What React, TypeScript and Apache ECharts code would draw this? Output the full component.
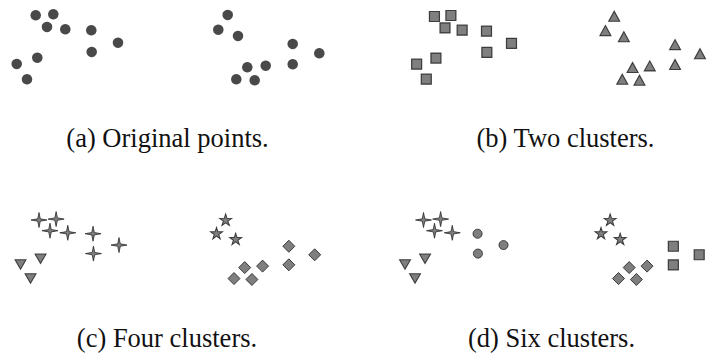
import React, { useEffect, useRef } from "react";
import * as echarts from "echarts";

// Shared point set (same 20 points in every panel), y measured downward
const pointsX = [35.7, 53.3, 47, 65.3, 91.3, 118, 91.7, 37.3, 16.7, 27, 227.7, 218.3, 238, 292.7, 319.3, 292.7, 247.3, 265.7, 236.3, 254.7];
const pointsY = [15.3, 14.3, 27, 29.3, 30.3, 42.7, 52, 57.7, 64, 79.3, 15, 29.7, 36, 44, 53.3, 64.3, 67.3, 65.7, 79.3, 80.3];

// Cluster (marker) assignment of each point per panel
const clustersA = ["dot", "dot", "dot", "dot", "dot", "dot", "dot", "dot", "dot", "dot", "dot", "dot", "dot", "dot", "dot", "dot", "dot", "dot", "dot", "dot"];
const clustersB = ["square", "square", "square", "square", "square", "square", "square", "square", "square", "square", "triangle", "triangle", "triangle", "triangle", "triangle", "triangle", "triangle", "triangle", "triangle", "triangle"];
const clustersC = ["sparkle", "sparkle", "sparkle", "sparkle", "sparkle", "sparkle", "sparkle", "downTriangle", "downTriangle", "downTriangle", "star", "star", "star", "diamond", "diamond", "diamond", "diamond", "diamond", "diamond", "diamond"];
const clustersD = ["sparkle", "sparkle", "sparkle", "sparkle", "circle", "circle", "circle", "downTriangle", "downTriangle", "downTriangle", "star", "star", "star", "square", "square", "square", "diamond", "diamond", "diamond", "diamond"];

const captions = ["(a) Original points.", "(b) Two clusters.", "(c) Four clusters.", "(d) Six clusters."];

const SPARKLE = "path://M0,-10 L1.6,-1.6 L10,0 L1.6,1.6 L0,10 L-1.6,1.6 L-10,0 L-1.6,-1.6 Z";
const STAR = "path://M0,-10 L2.245,-3.09 L9.51,-3.09 L3.63,1.18 L5.88,8.09 L0,3.82 L-5.88,8.09 L-3.63,1.18 L-9.51,-3.09 L-2.245,-3.09 Z";

const FILL = "#5f5f5f";
const EDGE = "#1c1c1c";

const markerStyles: Record<string, any> = {
  dot: { symbol: "circle", symbolSize: 10.5, itemStyle: { color: "#1b1b1b" } },
  square: { symbol: "rect", symbolSize: 10, itemStyle: { color: FILL, borderColor: EDGE, borderWidth: 1.2 } },
  triangle: { symbol: "triangle", symbolSize: [11, 10], itemStyle: { color: FILL, borderColor: EDGE, borderWidth: 1.1 } },
  downTriangle: { symbol: "triangle", symbolSize: [11, 9.5], symbolRotate: 180, itemStyle: { color: FILL, borderColor: EDGE, borderWidth: 1 } },
  sparkle: { symbol: SPARKLE, symbolSize: [16, 15], itemStyle: { color: FILL, borderColor: EDGE, borderWidth: 0.9 } },
  star: { symbol: STAR, symbolSize: [12, 11.5], itemStyle: { color: FILL, borderColor: EDGE, borderWidth: 1 } },
  diamond: { symbol: "diamond", symbolSize: 12, itemStyle: { color: FILL, borderColor: EDGE, borderWidth: 1 } },
  circle: { symbol: "circle", symbolSize: 9, itemStyle: { color: FILL, borderColor: EDGE, borderWidth: 1 } },
};

const panels = [
  { clusters: clustersA, grid: { left: 0, top: 0, width: 330, height: 90 }, caption: { x: 167.5, y: 138 } },
  { clusters: clustersB, grid: { left: 401, top: 1.5, width: 322, height: 88.2 }, caption: { x: 565.5, y: 138 } },
  { clusters: clustersC, grid: { left: 4.3, top: 206, width: 320.8, height: 82.35 }, caption: { x: 167, y: 338 } },
  { clusters: clustersD, grid: { left: 388.8, top: 206, width: 320.8, height: 82.35 }, caption: { x: 551.5, y: 338 } },
];

export default function App() {
  const ref = useRef<HTMLDivElement>(null);
  useEffect(() => {
    if (!ref.current) return;
    const chart = echarts.init(ref.current, null, { renderer: "svg" });
    const grid: any[] = [];
    const xAxis: any[] = [];
    const yAxis: any[] = [];
    const series: any[] = [];
    const graphic: any[] = [];
    panels.forEach((p, i) => {
      grid.push({ ...p.grid, containLabel: false, show: false });
      xAxis.push({ type: "value", gridIndex: i, min: 0, max: 330, show: false });
      yAxis.push({ type: "value", gridIndex: i, min: 0, max: 90, inverse: true, show: false });
      const kinds = Array.from(new Set(p.clusters));
      kinds.forEach((k) => {
        const data: number[][] = [];
        p.clusters.forEach((c, j) => {
          if (c === k) data.push([pointsX[j], pointsY[j]]);
        });
        series.push({
          type: "scatter",
          xAxisIndex: i,
          yAxisIndex: i,
          clip: false,
          silent: true,
          data,
          ...markerStyles[k],
        });
      });
      graphic.push({
        type: "text",
        x: p.caption.x,
        y: p.caption.y,
        style: {
          text: captions[i],
          font: '26.5px "Liberation Serif"',
          fill: "#111",
          textAlign: "center",
          verticalAlign: "middle",
        },
      });
    });
    chart.setOption({
      animation: false,
      backgroundColor: "#ffffff",
      grid,
      xAxis,
      yAxis,
      series,
      graphic,
    });
    return () => chart.dispose();
  }, []);
  return <div ref={ref} style={{ position: "fixed", left: 0, top: 0, width: 710, height: 358 }} />;
}
